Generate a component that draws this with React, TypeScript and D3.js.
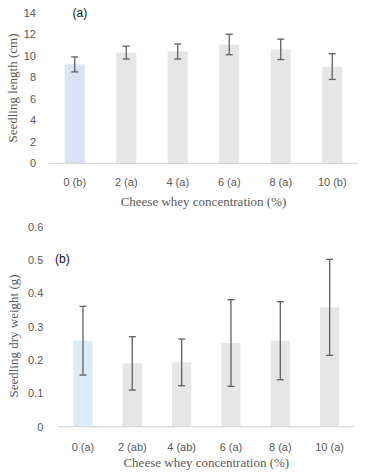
import * as d3 from "d3";
import { useEffect, useRef } from "react";

// panel (a) seedling length
const categoriesA = ["0 (b)", "2 (a)", "4 (a)", "6 (a)", "8 (a)", "10 (b)"];
const lengthMeans = [9.2, 10.3, 10.4, 11.05, 10.6, 9.0];
const lengthErrors = [0.7, 0.6, 0.7, 0.95, 0.95, 1.2];
const lengthTicks = [0, 2, 4, 6, 8, 10, 12, 14];

// panel (b) seedling dry weight
const categoriesB = ["0 (a)", "2 (ab)", "4 (ab)", "6 (a)", "8 (a)", "10 (a)"];
const weightMeans = [0.258, 0.19, 0.193, 0.251, 0.258, 0.358];
const weightErrors = [0.103, 0.08, 0.07, 0.13, 0.117, 0.144];
const weightTicks = [0, 0.1, 0.2, 0.3, 0.4, 0.5, 0.6];

const xTitle = "Cheese whey concentration (%)";

export default function App() {
    const ref = useRef<SVGSVGElement | null>(null);

    useEffect(() => {
        if (!ref.current) return;
        const svg = d3.select(ref.current);
        svg.selectAll("*").remove();

        const sans = "'Liberation Sans', Arial, sans-serif";
        const serif = "'Liberation Serif', 'Times New Roman', serif";
        const grey = "#595959";

        function panel(opts: {
            cats: string[];
            means: number[];
            errs: number[];
            ticks: number[];
            max: number;
            x0: number;
            x1: number;
            yBottom: number;
            yTop: number;
            tickGap: number;
            firstColor: string;
            yTitle: string;
            yTitleX: number;
            yTitleY: number;
            tag: string;
            tagX: number;
            tagY: number;
            labelY: number;
            titleY: number;
        }) {
            const g = svg.append("g");
            const x = d3.scaleBand()
                .domain(opts.cats)
                .range([opts.x0, opts.x1])
                .paddingInner(0.61)
                .paddingOuter(0.305);
            const y = d3.scaleLinear()
                .domain([0, opts.max])
                .range([opts.yBottom, opts.yTop]);

            // tick labels (no gridlines)
            g.selectAll("text.tick")
                .data(opts.ticks)
                .join("text")
                .attr("class", "tick")
                .attr("x", opts.x0 - opts.tickGap)
                .attr("y", (d) => y(d))
                .attr("dy", "0.35em")
                .attr("text-anchor", "end")
                .attr("font-family", sans)
                .attr("font-size", 11)
                .attr("fill", grey)
                .text((d) => String(d));

            // bars
            g.selectAll("rect")
                .data(opts.means)
                .join("rect")
                .attr("x", (_d, i) => x(opts.cats[i])!)
                .attr("width", x.bandwidth())
                .attr("y", (d) => y(d))
                .attr("height", (d) => y(0) - y(d))
                .attr("fill", (_d, i) => (i === 0 ? opts.firstColor : "#e7e6e6"));

            // axis line
            g.append("line")
                .attr("x1", opts.x0)
                .attr("x2", opts.x1)
                .attr("y1", y(0))
                .attr("y2", y(0))
                .attr("stroke", "#d0d0d0")
                .attr("stroke-width", 1);

            // error bars
            const eb = g.append("g")
                .attr("stroke", "#606060")
                .attr("stroke-width", 1.3)
                .attr("fill", "none");
            opts.means.forEach((m, i) => {
                const cx = x(opts.cats[i])! + x.bandwidth() / 2;
                const hi = y(m + opts.errs[i]);
                const lo = y(m - opts.errs[i]);
                eb.append("line").attr("x1", cx).attr("x2", cx).attr("y1", hi).attr("y2", lo);
                eb.append("line").attr("x1", cx - 3.5).attr("x2", cx + 3.5).attr("y1", hi).attr("y2", hi);
                eb.append("line").attr("x1", cx - 3.5).attr("x2", cx + 3.5).attr("y1", lo).attr("y2", lo);
            });

            // category labels
            g.selectAll("text.cat")
                .data(opts.cats)
                .join("text")
                .attr("class", "cat")
                .attr("x", (d) => x(d)! + x.bandwidth() / 2)
                .attr("y", opts.labelY)
                .attr("text-anchor", "middle")
                .attr("font-family", sans)
                .attr("font-size", 11)
                .attr("fill", grey)
                .text((d) => d);

            // axis titles
            g.append("text")
                .attr("x", (opts.x0 + opts.x1) / 2)
                .attr("y", opts.titleY)
                .attr("text-anchor", "middle")
                .attr("font-family", serif)
                .attr("font-size", 13)
                .attr("fill", grey)
                .text(xTitle);

            g.append("text")
                .attr("transform", `translate(${opts.yTitleX},${opts.yTitleY}) rotate(-90)`)
                .attr("text-anchor", "middle")
                .attr("dy", "0.35em")
                .attr("font-family", serif)
                .attr("font-size", 13)
                .attr("fill", grey)
                .text(opts.yTitle);

            // panel tag
            g.append("text")
                .attr("x", opts.tagX)
                .attr("y", opts.tagY)
                .attr("dy", "0.35em")
                .attr("font-family", sans)
                .attr("font-size", 12)
                .attr("fill", "#111")
                .text(opts.tag);
        }

        panel({
            cats: categoriesA,
            means: lengthMeans,
            errs: lengthErrors,
            ticks: lengthTicks,
            max: 14,
            x0: 49,
            x1: 358,
            yBottom: 163.3,
            yTop: 12.8,
            tickGap: 13,
            firstColor: "#dae3f3",
            yTitle: "Seedling length (cm)",
            yTitleX: 12,
            yTitleY: 88,
            tag: "(a)",
            tagX: 72.5,
            tagY: 12.7,
            labelY: 185.5,
            titleY: 206,
        });

        panel({
            cats: categoriesB,
            means: weightMeans,
            errs: weightErrors,
            ticks: weightTicks,
            max: 0.6,
            x0: 58.3,
            x1: 354.3,
            yBottom: 426.7,
            yTop: 226.7,
            tickGap: 15,
            firstColor: "#ddebf7",
            yTitle: "Seedling dry weight (g)",
            yTitleX: 13,
            yTitleY: 336,
            tag: "(b)",
            tagX: 55,
            tagY: 258.3,
            labelY: 450.5,
            titleY: 466.5,
        });
    }, []);

    return (
        <svg
            ref={ref}
            width={367}
            height={475}
            style={{ position: "absolute", left: 0, top: 0, background: "#fff" }}
        />
    );
}
